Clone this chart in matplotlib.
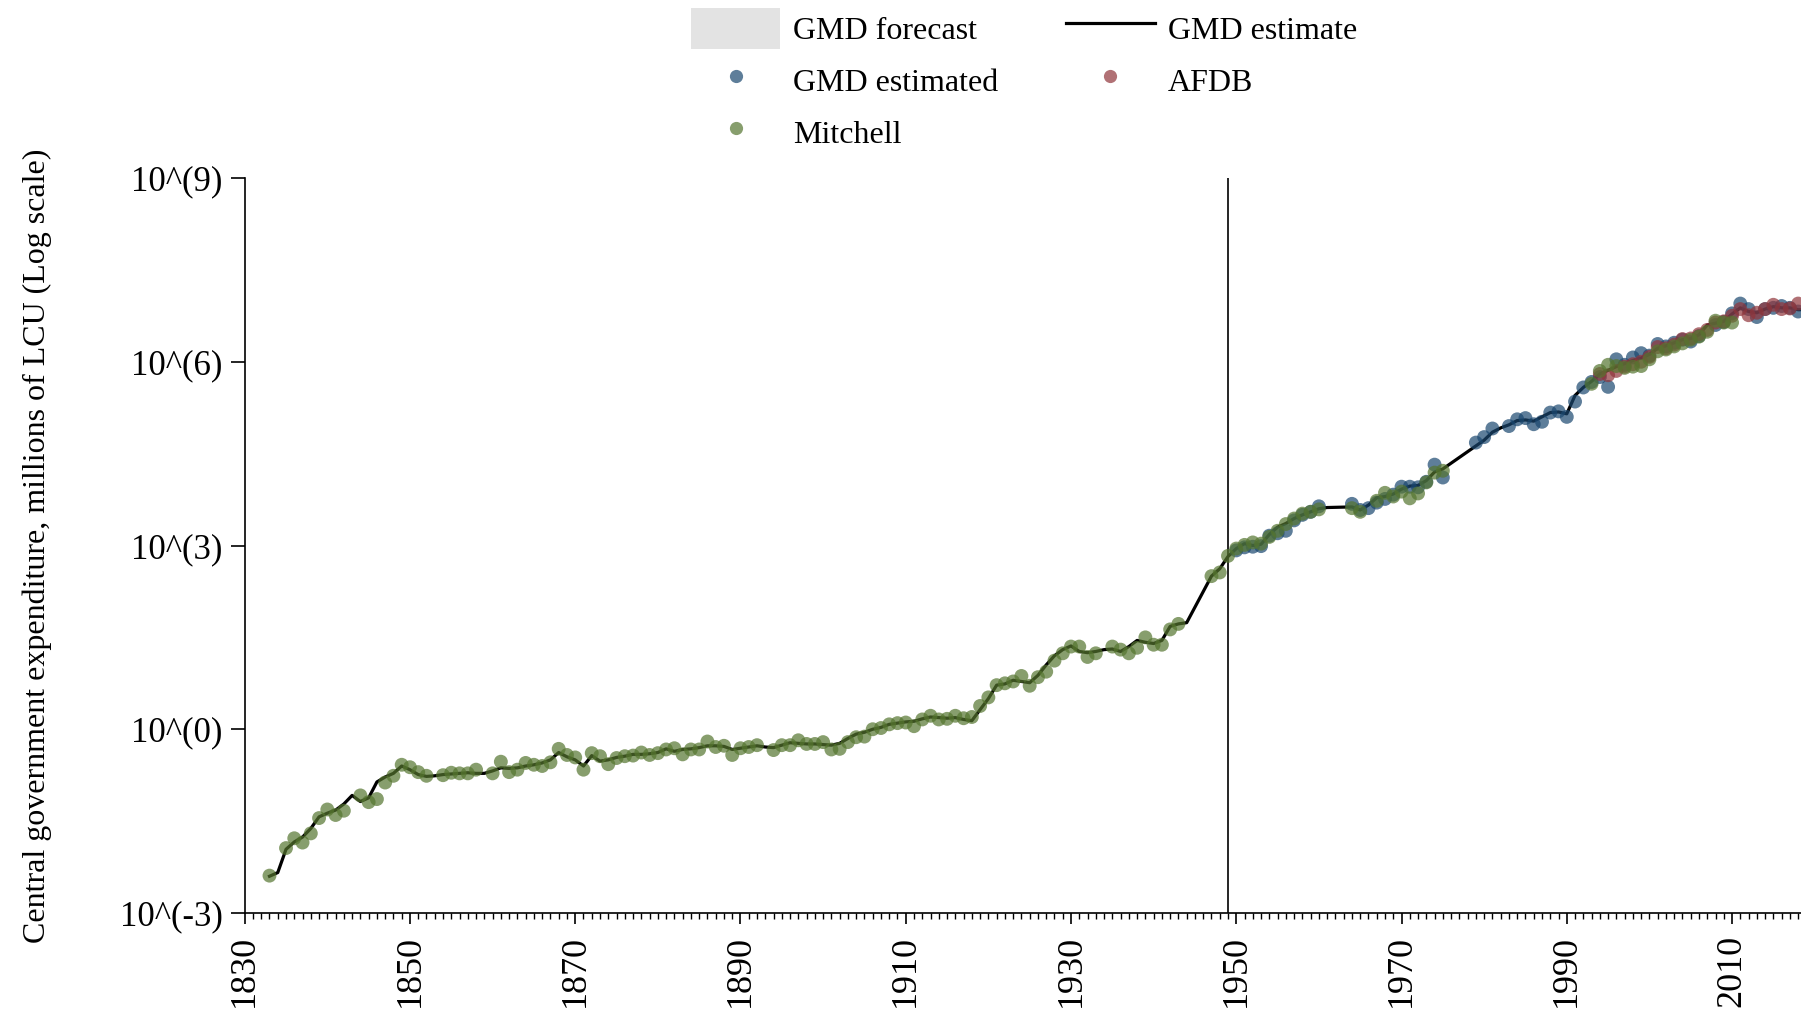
import matplotlib
matplotlib.use("Agg")
import matplotlib.pyplot as plt
import numpy as np
from matplotlib.lines import Line2D
from matplotlib.patches import Patch
from matplotlib.ticker import FixedLocator, MultipleLocator, NullLocator

plt.rcParams['font.family'] = ['Liberation Serif', 'DejaVu Serif']

# ---------------- data (log10 of millions of LCU) ----------------
est_years = (list(range(1833, 1945)) + list(range(1947, 1962)) +
             list(range(1964, 1976)) + list(range(1980, 2020)))
est_log = [
    -2.40, -2.34, -1.96, -1.84, -1.76, -1.62, -1.43, -1.37, -1.32, -1.22,
    -1.08, -1.18, -1.12, -0.86, -0.78, -0.72, -0.60, -0.66, -0.74, -0.77,
    -0.76, -0.74, -0.73, -0.72, -0.71, -0.72, -0.72, -0.68, -0.63, -0.64,
    -0.63, -0.60, -0.58, -0.55, -0.50, -0.38, -0.45, -0.50, -0.60, -0.43,
    -0.52, -0.50, -0.46, -0.44, -0.41, -0.41, -0.40, -0.38, -0.32, -0.36,
    -0.33, -0.32, -0.30, -0.27, -0.27, -0.28, -0.33, -0.31, -0.29, -0.27,
    -0.29, -0.30, -0.26, -0.22, -0.23, -0.24, -0.24, -0.25, -0.26, -0.23,
    -0.15, -0.08, -0.05, 0.00, 0.03, 0.08, 0.10, 0.12, 0.13, 0.17,
    0.20, 0.19, 0.18, 0.19, 0.16, 0.14, 0.32, 0.50, 0.72, 0.74,
    0.80, 0.78, 0.76, 0.88, 1.05, 1.20, 1.30, 1.36, 1.27, 1.25,
    1.27, 1.30, 1.31, 1.27, 1.35, 1.45, 1.42, 1.40, 1.45, 1.68,
    1.72, 1.74,
    2.50, 2.62, 2.82, 2.95, 3.03, 3.00, 3.02, 3.18, 3.30, 3.36, 3.44, 3.50, 3.55, 3.60, 3.62,
    3.63, 3.58, 3.66, 3.78, 3.80, 3.84, 3.92, 3.97, 3.98, 4.06, 4.20, 4.25,
    4.72, 4.85, 4.92, 4.97, 5.04, 5.05, 5.03, 5.10, 5.17, 5.18,
    5.15, 5.45, 5.58, 5.68, 5.80, 5.86, 5.92, 5.97, 6.02, 6.06,
    6.12, 6.22, 6.26, 6.31, 6.36, 6.38, 6.44, 6.60, 6.63, 6.66,
    6.78, 6.88, 6.82, 6.80, 6.86, 6.90, 6.88, 6.88, 6.85, 6.85,
]

mitchell_years = [
    1833, 1835, 1836, 1837, 1838, 1839, 1840, 1841, 1842, 1844, 1845, 1846, 1847, 1848,
    1849, 1850, 1851, 1852, 1854, 1855, 1856, 1857, 1858, 1860, 1861, 1862, 1863, 1864,
    1865, 1866, 1867, 1868, 1869, 1870, 1871, 1872, 1873, 1874, 1875, 1876, 1877, 1878,
    1879, 1880, 1881, 1882, 1883, 1884, 1885, 1886, 1887, 1888, 1889, 1890, 1891, 1892,
    1894, 1895, 1896, 1897, 1898, 1899, 1900, 1901, 1902, 1903, 1904, 1905, 1906, 1907,
    1908, 1909, 1910, 1911, 1912, 1913, 1914, 1915, 1916, 1917, 1918, 1919, 1920, 1921,
    1922, 1923, 1924, 1925, 1926, 1927, 1928, 1929, 1930, 1931, 1932, 1933, 1935, 1936,
    1937, 1938, 1939, 1940, 1941, 1942, 1943, 1947, 1948, 1949, 1950, 1951, 1952, 1953,
    1954, 1955, 1956, 1957, 1958, 1959, 1960, 1964, 1965, 1967, 1968, 1969, 1970, 1971,
    1972, 1973, 1974, 1975, 1993, 1994, 1995, 1996, 1997, 1998, 1999, 2000, 2001, 2002,
    2003, 2004, 2005, 2006, 2007, 2008, 2009, 2010,
]
mitchell_log = [
    -2.39, -1.94, -1.78, -1.85, -1.70, -1.45, -1.31, -1.40, -1.33, -1.08, -1.19, -1.14, -0.87, -0.76,
    -0.58, -0.62, -0.70, -0.76, -0.75, -0.71, -0.72, -0.72, -0.66, -0.72, -0.53, -0.70, -0.66, -0.55,
    -0.58, -0.60, -0.54, -0.32, -0.42, -0.46, -0.66, -0.39, -0.44, -0.57, -0.47, -0.44, -0.43, -0.38,
    -0.42, -0.39, -0.33, -0.31, -0.41, -0.33, -0.33, -0.20, -0.29, -0.27, -0.42, -0.31, -0.29, -0.26,
    -0.34, -0.26, -0.26, -0.18, -0.24, -0.24, -0.21, -0.33, -0.32, -0.21, -0.13, -0.12, 0.00, 0.02,
    0.08, 0.10, 0.11, 0.05, 0.16, 0.22, 0.16, 0.17, 0.22, 0.18, 0.20, 0.38, 0.52, 0.72,
    0.75, 0.78, 0.87, 0.71, 0.85, 0.94, 1.12, 1.24, 1.35, 1.35, 1.18, 1.24, 1.35, 1.30,
    1.24, 1.33, 1.50, 1.38, 1.38, 1.63, 1.72, 2.50, 2.56, 2.83, 2.95, 3.01, 3.05, 3.03,
    3.14, 3.24, 3.35, 3.44, 3.52, 3.55, 3.59, 3.61, 3.55, 3.73, 3.86, 3.80, 3.88, 3.77,
    3.85, 4.03, 4.19, 4.22, 5.64, 5.85, 5.95, 5.93, 5.90, 5.92, 5.93, 6.04, 6.17, 6.20,
    6.25, 6.30, 6.36, 6.41, 6.49, 6.67, 6.64, 6.64,
]

gmd_years = [
    1950, 1951, 1952, 1953, 1954, 1955, 1956, 1957, 1958, 1959, 1960, 1964, 1965, 1966,
    1967, 1968, 1969, 1970, 1971, 1972, 1973, 1974, 1975, 1979, 1980, 1981, 1983, 1984,
    1985, 1986, 1987, 1988, 1989, 1990, 1991, 1992, 1993, 1994, 1995, 1996, 1997, 1998,
    1999, 2000, 2001, 2002, 2003, 2004, 2005, 2006, 2008, 2009, 2010, 2011, 2012, 2013,
    2014, 2015, 2016, 2017, 2018,
]
gmd_log = [
    2.92, 2.97, 2.98, 2.99, 3.16, 3.20, 3.24, 3.41, 3.50, 3.55, 3.64, 3.68, 3.58, 3.61,
    3.70, 3.76, 3.83, 3.96, 3.96, 3.95, 4.04, 4.32, 4.11, 4.68, 4.77, 4.91, 4.95, 5.06,
    5.08, 4.98, 5.02, 5.17, 5.19, 5.10, 5.35, 5.58, 5.67, 5.75, 5.59, 6.04, 5.95, 6.07,
    6.14, 6.10, 6.29, 6.25, 6.31, 6.36, 6.33, 6.42, 6.60, 6.65, 6.79, 6.95, 6.86, 6.73,
    6.86, 6.88, 6.91, 6.88, 6.82,
]

afdb_years = [
    1994, 1995, 1996, 1997, 1998, 1999, 2000, 2001, 2002, 2003, 2004, 2005, 2006, 2007,
    2008, 2009, 2010, 2011, 2012, 2013, 2014, 2015, 2016, 2017, 2018,
]
afdb_log = [
    5.80, 5.78, 5.85, 5.92, 5.96, 6.00, 6.08, 6.24, 6.22, 6.28, 6.37, 6.38, 6.45, 6.52,
    6.64, 6.66, 6.75, 6.86, 6.76, 6.80, 6.86, 6.93, 6.86, 6.87, 6.95,
]

ytick_vals = [1e-3, 1e0, 1e3, 1e6, 1e9]
ytick_labels = ["10^(-3)", "10^(0)", "10^(3)", "10^(6)", "10^(9)"]
xtick_vals = list(range(1830, 2030, 20))
vline_year = 1949

# ---------------- styling ----------------
c_blue = "#1a476f"
c_red = "#90353b"
c_green = "#55752f"
alpha = 0.7
msize = 100

W, H = 1801, 1017
fig = plt.figure(figsize=(W / 100, H / 100), dpi=100)
x0, x1 = 1830, 2020
px_per_year = 8.263
ax_left = 244.7 / W
ax_bottom = 1 - 913 / H
ax_h = (913 - 178) / H
ax_w = (x1 - x0) * px_per_year / W
ax = fig.add_axes([ax_left, ax_bottom, ax_w, ax_h])

ax.plot(est_years, 10 ** np.array(est_log), color="black", lw=2.3, zorder=2)
ax.scatter(gmd_years, 10 ** np.array(gmd_log), s=msize, color=c_blue, alpha=alpha,
           edgecolors="none", zorder=3)
ax.scatter(afdb_years, 10 ** np.array(afdb_log), s=msize, color=c_red, alpha=alpha,
           edgecolors="none", zorder=3)
ax.scatter(mitchell_years, 10 ** np.array(mitchell_log), s=msize, color=c_green, alpha=alpha,
           edgecolors="none", zorder=3)
ax.axvline(vline_year, color="black", lw=1.2, zorder=1)

ax.set_yscale("log")
ax.set_ylim(1e-3, 1e9)
ax.set_xlim(x0, x1)
ax.yaxis.set_major_locator(FixedLocator(ytick_vals))
ax.yaxis.set_minor_locator(NullLocator())
ax.set_yticklabels(ytick_labels)
ax.xaxis.set_major_locator(FixedLocator(xtick_vals))
ax.xaxis.set_minor_locator(MultipleLocator(1))
ax.set_xticklabels([str(v) for v in xtick_vals], rotation=90)

for s in ["top", "right"]:
    ax.spines[s].set_visible(False)
for s in ["left", "bottom"]:
    ax.spines[s].set_linewidth(1.2)
ax.tick_params(axis="y", which="major", length=10, width=1.2, labelsize=25, pad=6)
ax.tick_params(axis="x", which="major", length=8, width=1.2, labelsize=26, pad=8)
ax.tick_params(axis="x", which="minor", length=4, width=1.0)

fig.text(37.5 / W, 1 - 545.5 / H,
         "Central government expenditure, millions of LCU (Log scale)",
         rotation=90, ha="center", va="center", fontsize=23)

handles = [
    Patch(facecolor="#e3e3e3", edgecolor="none"),
    Line2D([], [], marker="o", ls="none", color=c_blue, alpha=alpha, markersize=9.5, markeredgewidth=0),
    Line2D([], [], marker="o", ls="none", color=c_green, alpha=alpha, markersize=9.5, markeredgewidth=0),
    Line2D([], [], color="black", lw=2.3),
    Line2D([], [], marker="o", ls="none", color=c_red, alpha=alpha, markersize=9.5, markeredgewidth=0),
]
labels = ["GMD forecast", "GMD estimated", "Mitchell", "GMD estimate", "AFDB"]
fig.legend(handles, labels, ncol=2, loc="upper left",
           bbox_to_anchor=(691 / W, 1 - 8 / H), frameon=False, fontsize=23,
           handlelength=2.8, handleheight=1.58, handletextpad=0.4,
           columnspacing=2.1, labelspacing=0.36, borderpad=0, borderaxespad=0)

fig.savefig("out.png", dpi=100)
